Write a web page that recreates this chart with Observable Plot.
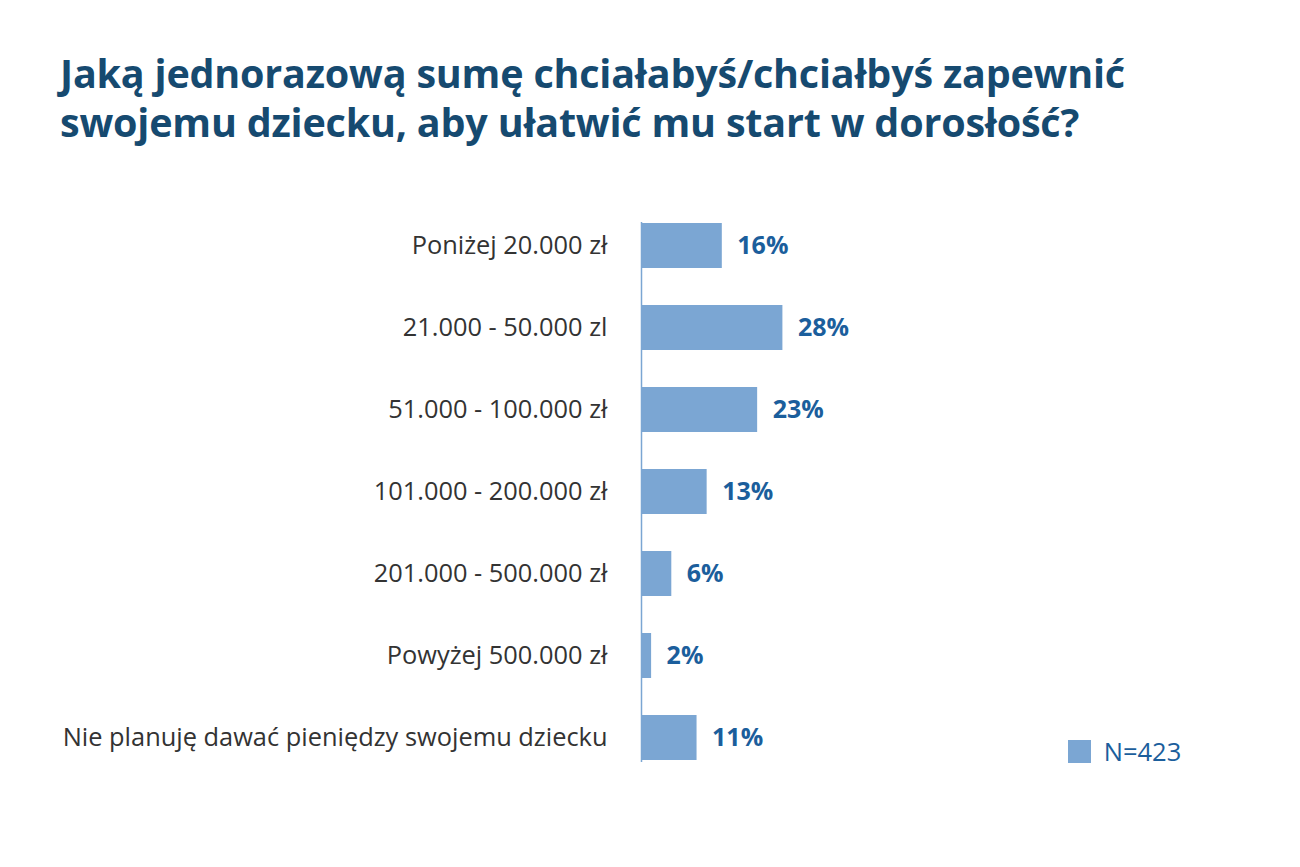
<!DOCTYPE html>
<html><head><meta charset="utf-8">
<script src="https://cdn.jsdelivr.net/npm/d3@7"></script>
<script src="https://cdn.jsdelivr.net/npm/@observablehq/plot@0.6"></script>
<style>
body{margin:0;background:#fff;width:1300px;height:867px;overflow:hidden;position:relative;font-family:"Open Sans",sans-serif;}
#title{position:absolute;left:60px;top:49px;margin:0;font-size:39.5px;line-height:49px;font-weight:700;color:#164a70;letter-spacing:-0.2px;white-space:nowrap;}
#chart{position:absolute;left:0;top:170px;}
#legend{position:absolute;left:1068px;top:734px;color:#1b5e9c;font-size:25px;}
</style></head>
<body>
<h1 id="title">Jaką jednorazową sumę chciałabyś/chciałbyś zapewnić<br>swojemu dziecku, aby ułatwić mu start w dorosłość?</h1>
<div id="chart"></div>
<div id="legend"></div>
<script>
const categories = ["Poniżej 20.000 zł","21.000 - 50.000 zl","51.000 - 100.000 zł","101.000 - 200.000 zł","201.000 - 500.000 zł","Powyżej 500.000 zł","Nie planuję dawać pieniędzy swojemu dziecku"];
const values = [16, 28, 23, 13, 6, 2, 11];
const seriesName = "N=423";
const barColor = "#7ba6d3";
const data = categories.map((c, i) => ({cat: c, value: values[i]}));

const chart = Plot.plot({
  width: 1300, height: 697,
  marginLeft: 641, marginRight: 154, marginTop: 52, marginBottom: 105,
  style: {fontFamily: "Open Sans", background: "white"},
  x: {domain: [0, 100], axis: null},
  y: {domain: categories, paddingInner: 0.45, paddingOuter: 0, label: null},
  marks: [
    Plot.barX(data, {x: "value", y: "cat", fill: barColor}),
    Plot.ruleX([0], {stroke: barColor, strokeWidth: 1.5}),
    Plot.axisY({tickSize: 0, tickPadding: 34, fontSize: 25.4, fill: "#333", label: null}),
    Plot.text(data, {x: "value", y: "cat", text: d => d.value + "%", dx: 15, textAnchor: "start", fontWeight: "bold", fontSize: 25, fill: "#1b5e9c"})
  ]
});
document.getElementById("chart").append(chart);

const leg = Plot.legend({color: {type: "categorical", domain: [seriesName], range: [barColor]}, legend: "swatches", swatchSize: 23, style: {fontSize: "25.5px", fontFamily: "Open Sans", color: "#1b5e9c"}});
document.getElementById("legend").append(leg);
</script>
</body></html>
